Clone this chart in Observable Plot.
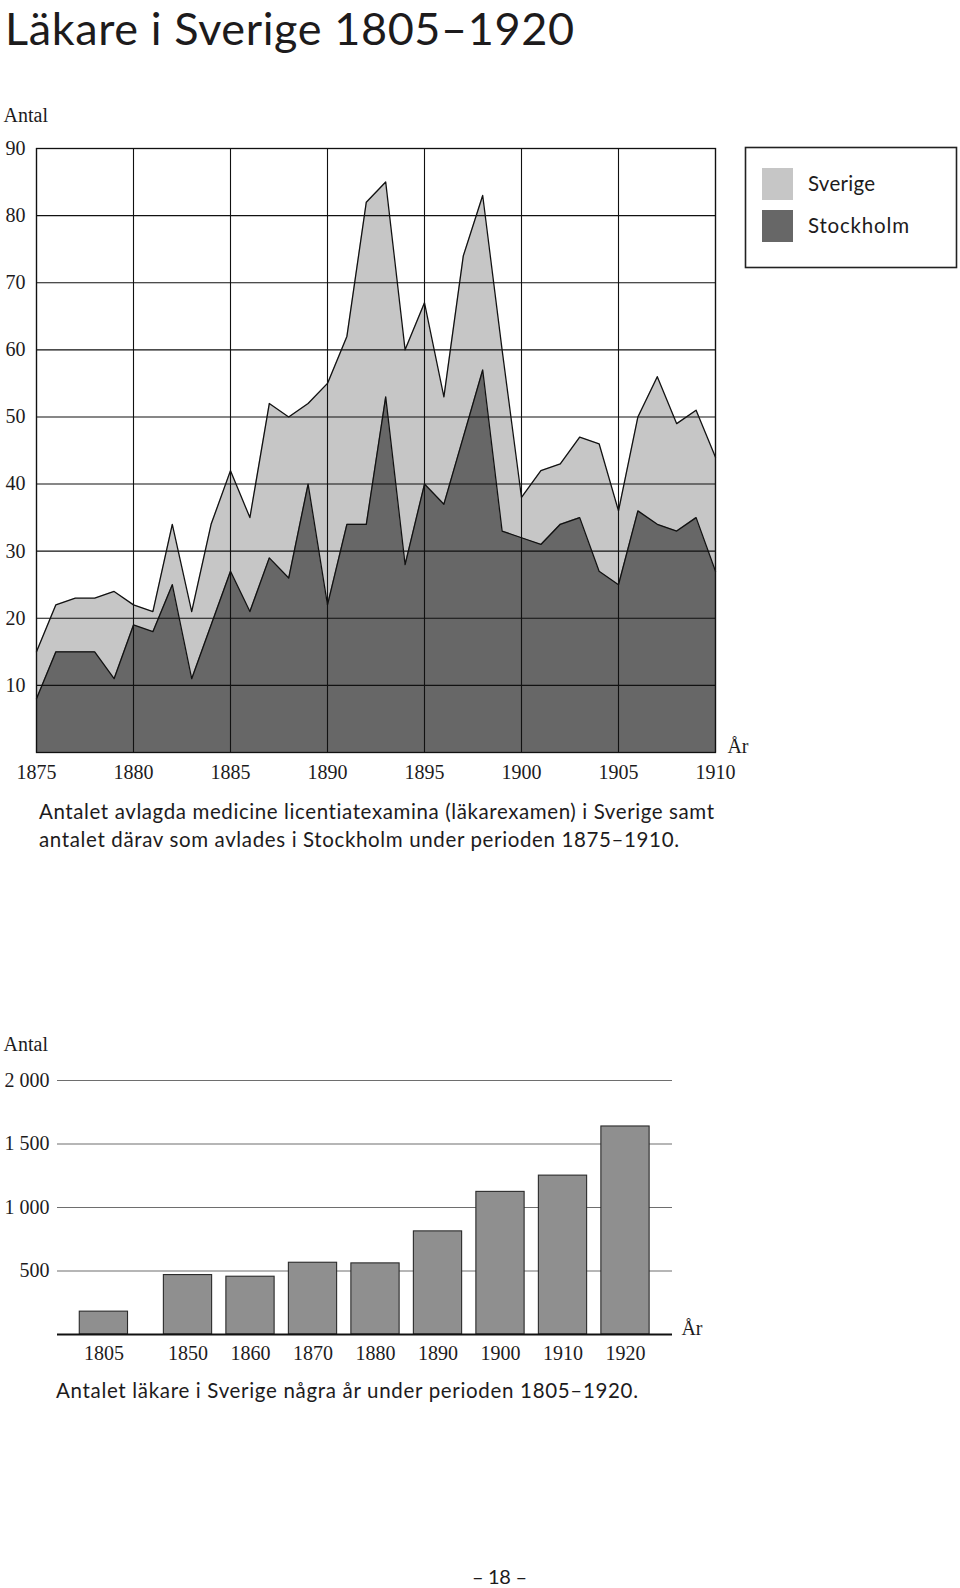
<!DOCTYPE html>
<html>
<head>
<meta charset="utf-8">
<script src="https://cdn.jsdelivr.net/npm/d3@7"></script>
<script src="https://cdn.jsdelivr.net/npm/@observablehq/plot@0.6"></script>
<style>
  html, body { margin: 0; padding: 0; background: #fff; }
  #page { position: relative; width: 960px; height: 1588px; overflow: hidden; background: #fff; }
  #page > svg { position: absolute; }
  #page text { font-variant-ligatures: none; }
</style>
</head>
<body>
<div id="page"></div>
<script>
// ---------- Data: medicine licentiate exams 1875–1910 ----------
const years = [1875, 1876, 1877, 1878, 1879, 1880, 1881, 1882, 1883, 1884,
               1885, 1886, 1887, 1888, 1889, 1890, 1891, 1892, 1893, 1894,
               1895, 1896, 1897, 1898, 1899, 1900, 1901, 1902, 1903, 1904,
               1905, 1906, 1907, 1908, 1909, 1910];
const sverige = [15, 22, 23, 23, 24, 22, 21, 34, 21, 34,
                 42, 35, 52, 50, 52, 55, 62, 82, 85, 60,
                 67, 53, 74, 83, 60, 38, 42, 43, 47, 46,
                 36, 50, 56, 49, 51, 44];
const stockholm = [8, 15, 15, 15, 11, 19, 18, 25, 11, 19,
                   27, 21, 29, 26, 40, 22, 34, 34, 53, 28,
                   40, 37, 47, 57, 33, 32, 31, 34, 35, 27,
                   25, 36, 34, 33, 35, 27];
const areaTickYears = [1875, 1880, 1885, 1890, 1895, 1900, 1905, 1910];
const areaTickValues = [10, 20, 30, 40, 50, 60, 70, 80, 90];

// ---------- Data: number of physicians in Sweden ----------
const barYears = [1805, 1850, 1860, 1870, 1880, 1890, 1900, 1910, 1920];
const lakare = [180, 468, 455, 565, 560, 812, 1123, 1251, 1638];
const barTickValues = [500, 1000, 1500, 2000];

// ---------- Text ----------
const titleText = "Läkare i Sverige 1805–1920";
const caption1a = "Antalet avlagda medicine licentiatexamina (läkarexamen) i Sverige samt";
const caption1b = "antalet därav som avlades i Stockholm under perioden 1875–1910.";
const caption2 = "Antalet läkare i Sverige några år under perioden 1805–1920.";
const seriesNames = ["Sverige", "Stockholm"];
const pageNumber = "– 18 –";

// ---------- Styles ----------
const LIGHT = "#c6c6c6";
const DARK = "#676767";
const INK = "#1d1b1c";
const SANS = "Lato, 'Noto Sans', sans-serif";
const SERIF = "'Liberation Serif', 'DejaVu Serif', serif";

const page = document.getElementById("page");

function addText(str, x, baseline, size, width) {
  const top = Math.max(0, baseline - size * 1.02);
  const asc = baseline - top;
  const svg = d3.create("svg")
    .attr("width", Math.ceil(width + 8))
    .attr("height", Math.ceil(asc + size * 0.3))
    .style("left", `${x}px`)
    .style("top", `${top}px`)
    .style("overflow", "visible");
  svg.append("text")
    .attr("x", 0)
    .attr("y", asc)
    .attr("textLength", width)
    .attr("lengthAdjust", "spacing")
    .attr("font-family", SANS)
    .attr("font-size", size)
    .attr("fill", INK)
    .text(str);
  page.appendChild(svg.node());
}

// Title
addText(titleText, 5, 44.5, 45, 569);

// ---------- Chart 1: overlapping areas ----------
const rows = years.map((year, i) => ({year, sverige: sverige[i], stockholm: stockholm[i]}));

const chart1 = Plot.plot({
  width: 751,
  height: 688,
  marginLeft: 36,
  marginRight: 36,
  marginTop: 44,
  marginBottom: 40,
  style: {fontFamily: SERIF, fontSize: "20px", color: INK, background: "transparent"},
  x: {
    domain: [1875, 1910],
    ticks: areaTickYears,
    tickFormat: "d",
    tickSize: 0,
    tickPadding: 12,
    label: "År",
    labelAnchor: "right",
    labelOffset: 0,
    labelArrow: "none"
  },
  y: {
    domain: [0, 90],
    ticks: areaTickValues,
    tickSize: 0,
    tickPadding: 11,
    label: "Antal",
    labelAnchor: "top",
    labelArrow: "none"
  },
  marks: [
    Plot.areaY(rows, {x: "year", y: "sverige", fill: LIGHT}),
    Plot.areaY(rows, {x: "year", y: "stockholm", fill: DARK}),
    Plot.gridX(areaTickYears, {stroke: "#111", strokeOpacity: 1, strokeWidth: 1.1}),
    Plot.gridY(areaTickValues, {stroke: "#111", strokeOpacity: 1, strokeWidth: 1.1}),
    Plot.lineY(rows, {x: "year", y: "sverige", stroke: "#111", strokeWidth: 1.3}),
    Plot.lineY(rows, {x: "year", y: "stockholm", stroke: "#111", strokeWidth: 1.3}),
    Plot.frame({stroke: "#111", strokeWidth: 1.3})
  ]
});
chart1.style.left = "0px";
chart1.style.top = "104px";
page.appendChild(chart1);

// Legend (built with d3)
const legendFills = [LIGHT, DARK];
const legend = d3.create("svg")
  .attr("width", 216)
  .attr("height", 124)
  .style("left", "744px")
  .style("top", "145.5px");
legend.append("rect")
  .attr("x", 1.5).attr("y", 1.5).attr("width", 211).attr("height", 120)
  .attr("fill", "#fff").attr("stroke", "#222").attr("stroke-width", 1.6);
const legendItems = legend.selectAll("g").data(seriesNames).join("g")
  .attr("transform", (d, i) => `translate(0, ${i * 42})`);
legendItems.append("rect")
  .attr("x", 18).attr("y", 22).attr("width", 31).attr("height", 32)
  .attr("fill", (d, i) => legendFills[i]);
legendItems.append("text")
  .attr("x", 64).attr("y", 45)
  .attr("font-family", SANS).attr("font-size", 20.5).attr("fill", INK)
  .attr("textLength", (d, i) => [67, 101][i]).attr("lengthAdjust", "spacing")
  .text(d => d);
page.appendChild(legend.node());

// Caption 1
addText(caption1a, 39, 819.3, 20.5, 675);
addText(caption1b, 39, 846.8, 20.5, 640);

// ---------- Chart 2: bar chart ----------
const bars = barYears.map((year, i) => ({year, antal: lakare[i]}));
const sv = d3.formatLocale({decimal: ",", thousands: "\u00a0", grouping: [3], currency: ["", " kr"]});
const fmtThousands = sv.format(",d");
const halfBar = 3.86; // half bar width in years on the linear part of the scale

const chart2 = Plot.plot({
  width: 705,
  height: 341,
  marginLeft: 57,
  marginRight: 33,
  marginTop: 47,
  marginBottom: 40,
  style: {fontFamily: SERIF, fontSize: "20px", color: INK, background: "transparent"},
  x: {
    type: "linear",
    domain: [1801, 1809, 1846, 1924],
    range: [78.4, 128.4, 162.5, 650],
    ticks: barYears,
    tickFormat: "d",
    tickSize: 0,
    tickPadding: 11,
    label: "År",
    labelAnchor: "right",
    labelOffset: 0,
    labelArrow: "none"
  },
  y: {
    domain: [0, 2000],
    ticks: barTickValues,
    tickFormat: fmtThousands,
    tickSize: 0,
    tickPadding: 8,
    label: "Antal",
    labelAnchor: "top",
    labelArrow: "none"
  },
  marks: [
    Plot.gridY(barTickValues, {stroke: "#6e6e6e", strokeOpacity: 1, strokeWidth: 1.2}),
    Plot.rectY(bars, {
      x1: d => d.year - halfBar,
      x2: d => d.year + halfBar,
      y: "antal",
      fill: "#8f8f8f",
      stroke: "#2a2a2a",
      strokeWidth: 1.1
    }),
    Plot.ruleY([0], {stroke: "#111", strokeWidth: 2})
  ]
});
chart2.style.left = "0px";
chart2.style.top = "1033px";
page.appendChild(chart2);

// Caption 2 and page number
addText(caption2, 55.7, 1398, 20.5, 582);
addText(pageNumber, 472, 1584, 20, 55);
</script>
</body>
</html>
